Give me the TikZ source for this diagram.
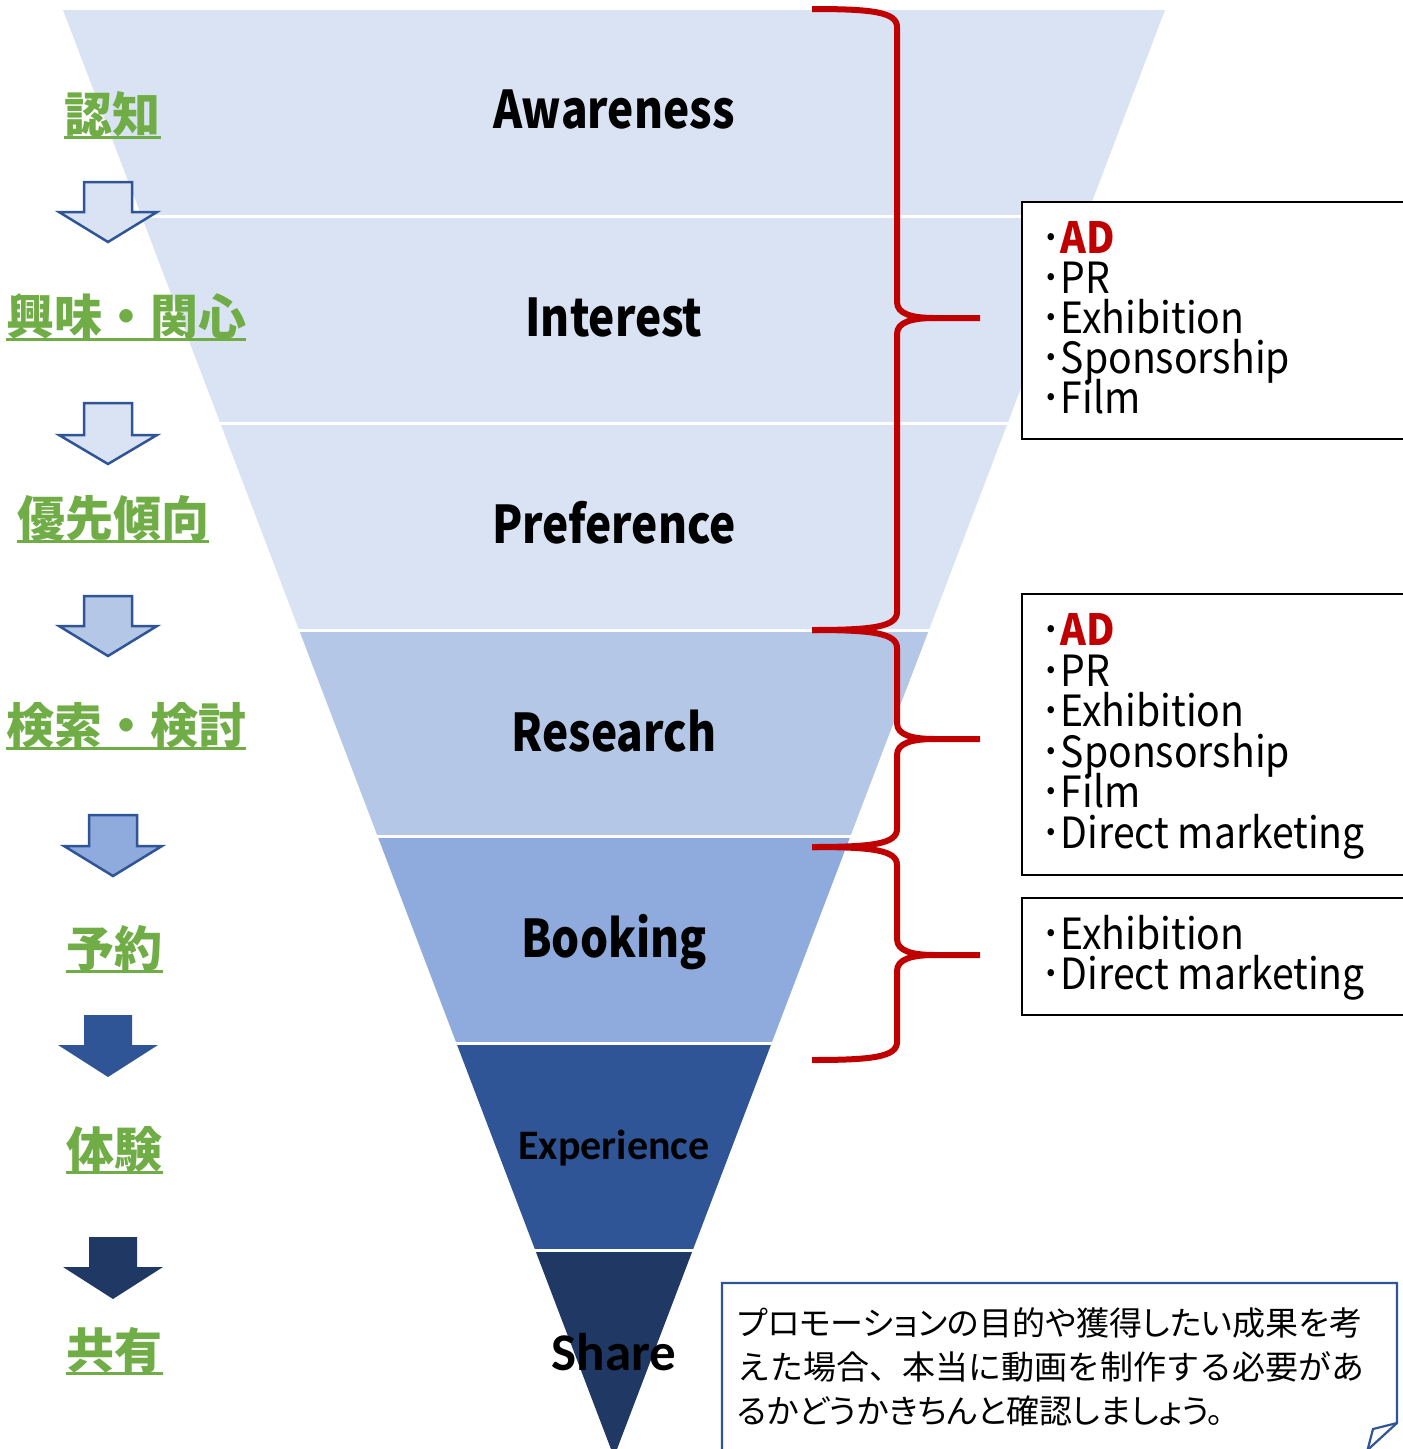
\documentclass[tikz,border=0pt]{standalone}
\usepackage{fontspec}
\newfontfamily\jp{Noto Sans CJK JP}
\newfontfamily\jpn{Noto Sans CJK JP}[FakeStretch=0.85]
\newfontfamily\jpi{Noto Sans CJK JP}[FakeStretch=0.91]
\newfontfamily\jpp{Noto Sans CJK JP}[RawFeature=+palt]
\newfontfamily\carl{Carlito}
\definecolor{La}{HTML}{DAE3F3}
\definecolor{Lb}{HTML}{B4C7E7}
\definecolor{Lc}{HTML}{8FAADC}
\definecolor{Ld}{HTML}{2F5597}
\definecolor{Le}{HTML}{203864}
\definecolor{brred}{HTML}{C00000}
\definecolor{grn}{HTML}{70AD47}
\tikzset{
 layer/.style={font=\jpn\bfseries\fontsize{52}{60}\selectfont, inner sep=0, anchor=base},
 layerc/.style={inner sep=0, anchor=base},
 stage/.style={font=\jp\bfseries\fontsize{48}{58}\selectfont, text=grn, inner sep=0},
 uline/.style={draw=grn, line width=3},
 brc/.style={draw=brred, line width=6},
 listbox/.style={draw=black, line width=1.8, fill=white},
 item/.style={font=\jpi\fontsize{43}{48}\selectfont, inner sep=0, anchor=base west},
 note/.style={font=\jpp\fontsize{33}{44}\selectfont, inner sep=0, anchor=base west},
 arrline/.style={draw=Ld, line width=2.5, line join=miter},
}
\newcommand\blockarr[7]{%
 \path[#7] (#1-#5,#2) -- (#1+#5,#2) -- (#1+#5,#3) -- (#1+#6,#3) -- (#1,#4) -- (#1-#6,#3) -- (#1-#5,#3) -- cycle;}
\newcommand\redbrace[3]{%
 \draw[brc] (812,#1) .. controls (872,#1) and (897,#1+3) .. (897,#1+18) -- (897,#2-16)
   .. controls (897,#2-4) and (912,#2) .. (935,#2) -- (980,#2);
 \draw[brc] (935,#2) .. controls (912,#2) and (897,#2+4) .. (897,#2+16) -- (897,#3-18)
   .. controls (897,#3-3) and (872,#3) .. (812,#3);}
\begin{document}
\begin{tikzpicture}[x=1pt,y=-1pt]
\useasboundingbox (0,0) rectangle (1403,1449);
\clip (0,0) rectangle (1403,1449);
% funnel layers
\foreach \i/\c in {0/La,1/La,2/La,3/Lb,4/Lc,5/Ld,6/Le} {
  \pgfmathsetmacro\ya{10+206.714*\i}
  \pgfmathsetmacro\yb{10+206.714*(\i+1)}
  \pgfmathsetmacro\xa{63+78.714*\i}
  \pgfmathsetmacro\xb{63+78.714*(\i+1)}
  \fill[\c] (\xa,\ya) -- (1228-\xa,\ya) -- (1228-\xb,\yb) -- (\xb,\yb) -- cycle;
}
\foreach \i in {1,...,6} {
  \pgfmathsetmacro\ya{10+206.714*\i}
  \pgfmathsetmacro\xa{63+78.714*\i}
  \draw[white, line width=3] (\xa-3,\ya) -- (1231-\xa,\ya);
}
% layer labels
\node[layer] (aw) at (614,128) {Awareness};
\node[layer] (in) at (614,336) {Interest};
\node[layer] (pr) at (614,543) {Preference};
\node[layer] (re) at (614,751) {Research};
\node[layer] (bo) at (614,957) {Booking};
\node[layerc, font=\carl\bfseries\fontsize{42}{50}\selectfont] (ex) at (614,1159) {Experience};
\node[layerc, font=\carl\bfseries\fontsize{53}{60}\selectfont] (sh) at (614,1370) {Share};
% left stage labels
\node[stage] (s1) at (112.5,114) {認知};
\node[stage] (s2) at (126,316) {興味・関心};
\node[stage] (s3) at (113,518) {優先傾向};
\node[stage] (s4) at (126,725) {検索・検討};
\node[stage] (s5) at (114.5,948) {予約};
\node[stage] (s6) at (114.5,1149) {体験};
\node[stage] (s7) at (114.5,1350) {共有};
\foreach \n in {s1,s2,s3,s4,s5,s6,s7}
  \draw[uline] ([yshift=-23pt]\n.center -| \n.west) -- ([yshift=-23pt]\n.center -| \n.east);
% down arrows
\blockarr{108}{182}{212}{242}{24}{49}{fill=La, arrline}
\blockarr{108}{403}{435}{464}{24}{49}{fill=La, arrline}
\blockarr{108}{596}{626}{656}{24}{49}{fill=Lb, arrline}
\blockarr{113}{815}{846}{876}{24}{49}{fill=Lc, arrline}
\blockarr{108}{1015}{1045}{1077}{24}{50}{fill=Ld}
\blockarr{113}{1237}{1267}{1299}{24}{50}{fill=Le}
% list boxes
\path[listbox] (1022,202) rectangle (1420,439);
\path[listbox] (1022,594) rectangle (1420,875);
\path[listbox] (1022,898) rectangle (1420,1015);
\node[item] (a1) at (1041,253) {･\textcolor{brred}{\bfseries AD}};
\node[item] (a2) at (1041,293) {･PR};
\node[item] (a3) at (1041,333) {･Exhibition};
\node[item] (a4) at (1041,373) {･Sponsorship};
\node[item] (a5) at (1041,413) {･Film};
\node[item] (b1) at (1041,645) {･\textcolor{brred}{\bfseries AD}};
\node[item] (b2) at (1041,686) {･PR};
\node[item] (b3) at (1041,726) {･Exhibition};
\node[item] (b4) at (1041,767) {･Sponsorship};
\node[item] (b5) at (1041,807) {･Film};
\node[item] (b6) at (1041,848) {･Direct marketing};
\node[item] (c1) at (1041,949) {･Exhibition};
\node[item] (c2) at (1041,989) {･Direct marketing};
% braces
\redbrace{9}{318}{630}
\redbrace{630}{739}{847}
\redbrace{847}{955}{1060}
% note callout
\path[fill=white, draw=Ld, line width=2.2, line join=miter]
  (722,1470) -- (722,1283) -- (1397,1283) -- (1397,1423) -- (1362,1455);
\draw[Ld, line width=2.2, line join=miter] (1397,1423) -- (1373,1429) -- (1367,1452);
\node[note] (n1) at (737,1335) {プロモーションの目的や獲得したい成果を考};
\node[note, font=\jp\fontsize{33}{44}\selectfont] (n2) at (737,1379) {えた場合、本当に動画を制作する必要があ};
\node[note] (n3) at (737,1423) {るかどうかきちんと確認しましょう。};
\end{tikzpicture}
\end{document}
